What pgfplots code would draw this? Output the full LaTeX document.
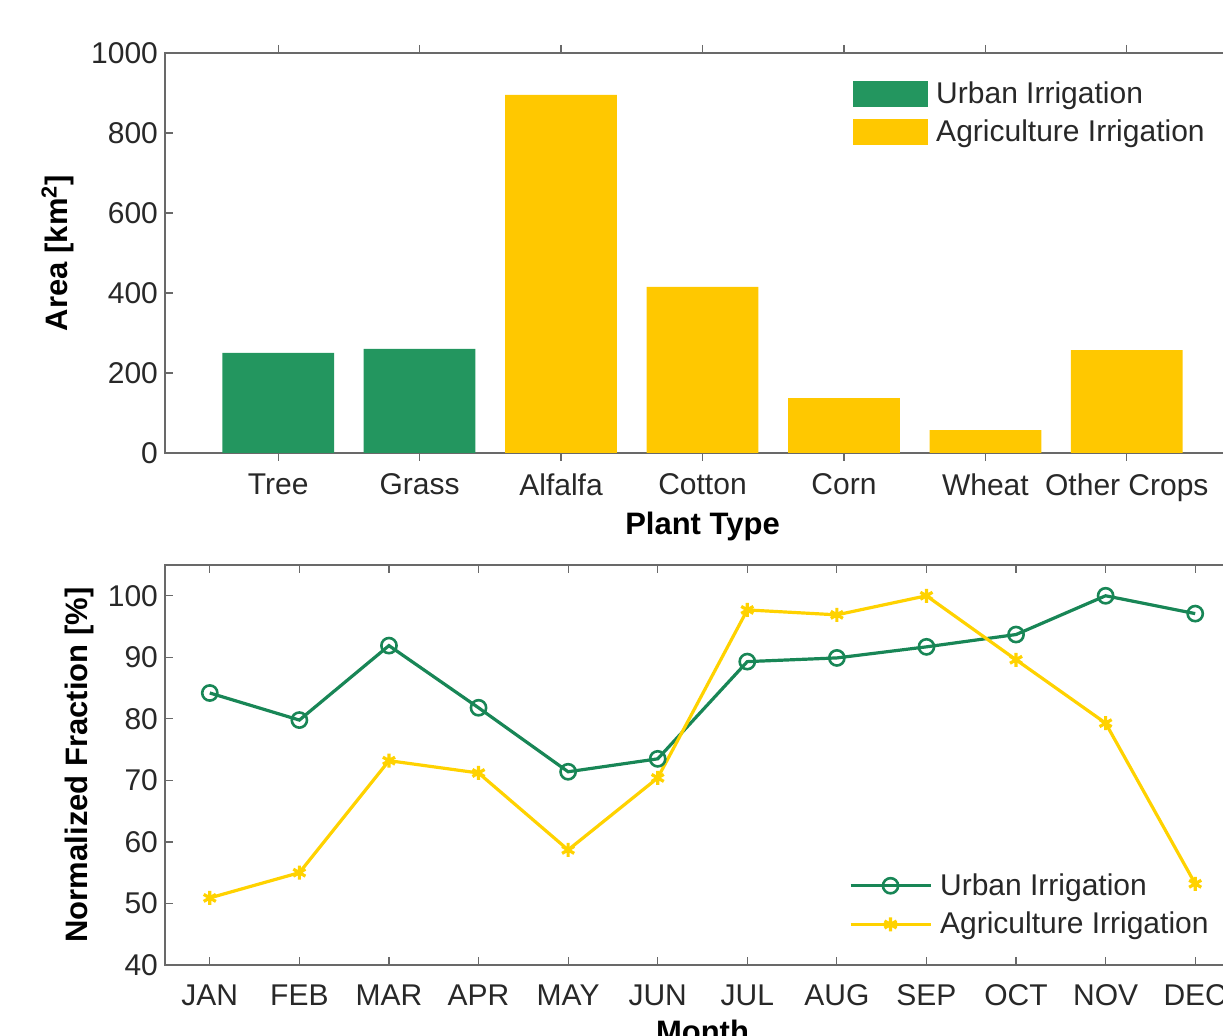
\documentclass[border=0pt]{standalone}
\usepackage{fontspec}
\setmainfont{Liberation Sans}
\usepackage{pgfplots}
\pgfplotsset{compat=1.18}
\definecolor{ugreen}{RGB}{35,150,95}
\definecolor{lgreen}{RGB}{24,134,86}
\definecolor{ayellow}{RGB}{255,200,0}
\definecolor{lyellow}{RGB}{255,210,0}
\definecolor{axgray}{RGB}{105,105,105}
\definecolor{txt}{RGB}{40,40,40}
\pgfplotsset{
  mystyle/.style={
    scale only axis, width=537.5pt, height=200pt,
    axis line style={axgray, line width=0.8pt},
    every tick/.style={axgray, line width=0.6pt},
    tick align=inside, major tick length=4pt,
    tick label style={font=\fontsize{15}{17}\selectfont, text=txt},
    label style={font=\fontsize{15.5}{17}\selectfont\bfseries, text=black},
    /pgf/number format/assume math mode=true,
    /pgf/number format/1000 sep={},
    legend style={draw=none, fill=none, font=\fontsize{15}{17}\selectfont, text=txt, row sep=3pt, inner sep=1pt,
      nodes={inner xsep=4pt}},
    legend cell align=left,
  }
}
\begin{document}
\begin{tikzpicture}
\begin{axis}[mystyle, at={(82.5pt,291.5pt)}, anchor=south west,
  xmin=0.2, xmax=7.8, ymin=0, ymax=1000, ytick={0,200,...,1000},
  xtick={1,...,7}, xticklabels={Tree,Grass,Alfalfa,Cotton,Corn,Wheat,Other Crops},
  xticklabel style={yshift=-3pt},
  xlabel style={yshift=2pt},
  ylabel style={yshift=2pt},
  ybar, bar width=0.79,
  xlabel={Plant Type}, ylabel={Area [km\textsuperscript{2}]},
  legend image code/.code={\fill[#1] (0pt,-6.5pt) rectangle (37.5pt,6.5pt);},
  legend style={at={(0.638,0.945)}, anchor=north west}]
\addplot[fill=ugreen, draw=none, bar shift=0pt] coordinates {(1,250) (2,260)};
\addplot[fill=ayellow, draw=none, bar shift=0pt] coordinates {(3,895) (4,415) (5,137) (6,57) (7,257)};
\legend{Urban Irrigation, Agriculture Irrigation}
\end{axis}
\begin{axis}[mystyle, at={(82.5pt,35.5pt)}, anchor=south west,
  xmin=0.5, xmax=12.5, ymin=40, ymax=105, ytick={40,50,...,100},
  xtick={1,...,12}, xticklabels={JAN,FEB,MAR,APR,MAY,JUN,JUL,AUG,SEP,OCT,NOV,DEC},
  xticklabel style={yshift=-6.5pt},
  xlabel={Month}, ylabel={Normalized Fraction [\%]},
  legend image code/.code={\draw[mark repeat=2,mark phase=2,#1] plot coordinates {(0pt,0pt) (20pt,0pt) (40pt,0pt)};},
  legend style={at={(0.634,0.245)}, anchor=north west}]
\addplot[lgreen, line width=1.6pt, mark=o, mark size=3.8pt, mark options={line width=1.3pt}] coordinates {
(1,84.2) (2,79.8) (3,91.9) (4,81.8) (5,71.4) (6,73.5) (7,89.3) (8,89.9) (9,91.7) (10,93.7) (11,100) (12,97.1)};
\addplot[lyellow, line width=1.6pt, mark=asterisk, mark size=3.5pt, mark options={line width=1.6pt}] coordinates {
(1,50.9) (2,55.0) (3,73.2) (4,71.2) (5,58.7) (6,70.4) (7,97.7) (8,96.9) (9,100) (10,89.6) (11,79.3) (12,53.2)};
\legend{Urban Irrigation, Agriculture Irrigation}
\end{axis}
\pgfresetboundingbox
\useasboundingbox (0pt,0pt) rectangle (611.5pt,518pt);
\end{tikzpicture}
\end{document}
